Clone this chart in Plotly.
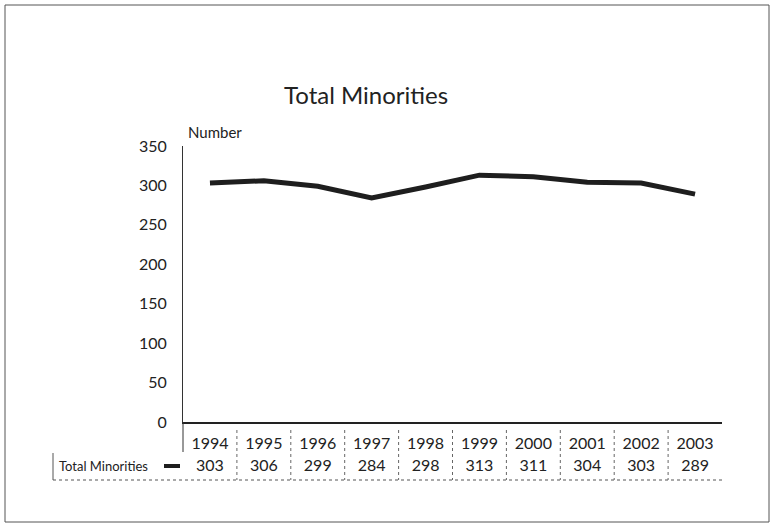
import plotly.graph_objects as go

years = ["1994", "1995", "1996", "1997", "1998", "1999", "2000", "2001", "2002", "2003"]
values = [303, 306, 299, 284, 298, 313, 311, 304, 303, 289]
series_name = "Total Minorities"
y_ticks = [0, 50, 100, 150, 200, 250, 300, 350]

FONT = "Lato"
TXT = "#222222"

# pixel layout: plot area x:183..722, chart y:146..422, table y:422..480
L, R, T, B, TB = 183, 722, 146, 422, 480
W, H = R - L, TB - T
YMAX = 350
SPLIT = (TB - B) / H
def px(x):
    return (x - L) / W
def py(y):
    return (TB - y) / H

fig = go.Figure()
fig.add_trace(go.Scatter(
    x=years, y=values, mode="lines",
    line=dict(color="#1e1e1e", width=5),
    name=series_name, showlegend=False, hoverinfo="skip",
))
# data table value row (on a lower strip axis)
fig.add_trace(go.Scatter(
    x=years, y=[TB - 467] * len(years), mode="text", yaxis="y2",
    text=[str(v) for v in values], textposition="middle center",
    textfont=dict(family=FONT, size=16, color=TXT),
    showlegend=False, hoverinfo="skip",
))

annotations = [
    dict(text="Total Minorities", x=px(366), y=py(94), xref="paper", yref="paper",
         showarrow=False, font=dict(family=FONT, size=24, color=TXT), xanchor="center", yanchor="middle"),
    dict(text="Number", x=px(186), y=py(132), xref="paper", yref="paper",
         showarrow=False, font=dict(family=FONT, size=15, color=TXT), xanchor="left", yanchor="middle"),
    dict(text=series_name, x=px(57), y=py(466), xref="paper", yref="paper",
         showarrow=False, font=dict(family=FONT, size=13, color=TXT), xanchor="left", yanchor="middle"),
]

shapes = [
    # outer border
    dict(type="rect", xref="paper", yref="paper", x0=px(5), x1=px(769), y0=py(522), y1=py(5),
         line=dict(color="#555555", width=1)),
    # y-axis extension into table
    dict(type="line", xref="paper", yref="paper", x0=0, x1=0, y0=py(422), y1=py(452),
         line=dict(color="#333333", width=1)),
    # table left border
    dict(type="line", xref="paper", yref="paper", x0=px(53), x1=px(53), y0=py(453), y1=py(480),
         line=dict(color="#555555", width=1)),
    # table bottom border
    dict(type="line", xref="paper", yref="paper", x0=px(53), x1=1, y0=py(480), y1=py(480),
         line=dict(color="#555555", width=1, dash="dot")),
    # legend key
    dict(type="line", xref="paper", yref="paper", x0=px(164), x1=px(180), y0=py(466), y1=py(466),
         line=dict(color="#1e1e1e", width=4)),
]
for i in range(len(years) - 1):
    shapes.append(dict(type="line", xref="x", yref="paper", x0=i + 0.5, x1=i + 0.5,
                       y0=py(430), y1=py(480), line=dict(color="#666666", width=1, dash="dot")))

fig.update_layout(
    width=771, height=524,
    margin=dict(l=L, r=771 - R, t=T, b=524 - TB),
    paper_bgcolor="white", plot_bgcolor="white",
    showlegend=False,
    annotations=annotations, shapes=shapes,
    xaxis=dict(type="category", range=[-0.5, len(years) - 0.5], showgrid=False, zeroline=False,
               showline=True, linecolor="#222222", linewidth=2, ticks="", anchor="y",
               tickfont=dict(family=FONT, size=16, color=TXT), ticklabelstandoff=6),
    yaxis=dict(domain=[SPLIT, 1], range=[0, YMAX], tickvals=y_ticks, showgrid=False, zeroline=False,
               showline=True, linecolor="#333333", linewidth=1, ticks="",
               tickfont=dict(family=FONT, size=16, color=TXT), ticklabelstandoff=12),
    yaxis2=dict(domain=[0, SPLIT], range=[0, TB - B], visible=False, fixedrange=True),
)

fig.write_html("out.html", config={"displayModeBar": False},
               post_script="document.body.style.margin='0';document.body.style.padding='0';")
